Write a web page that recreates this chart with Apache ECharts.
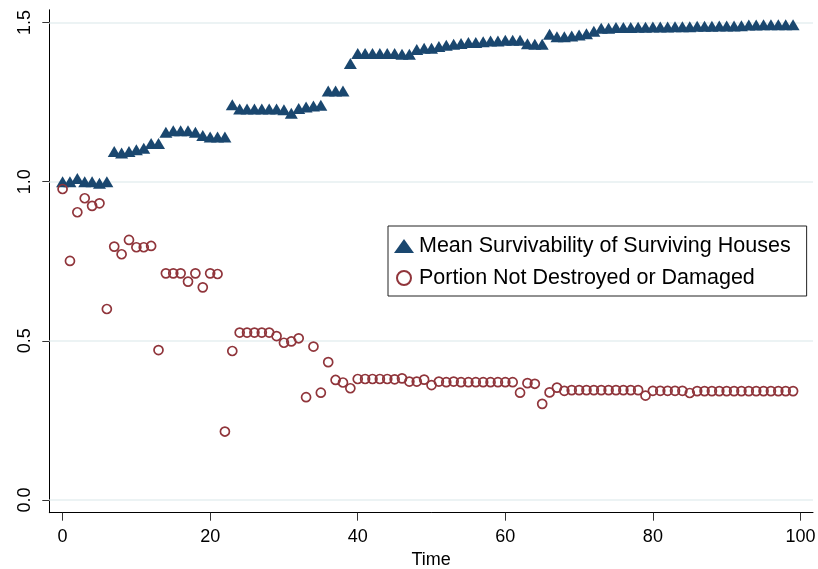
<!DOCTYPE html>
<html>
<head>
<meta charset="utf-8">
<script src="https://cdn.jsdelivr.net/npm/echarts@6/dist/echarts.min.js"></script>
<style>html,body{margin:0;padding:0;background:#fff}#c{width:818px;height:569px}</style>
</head>
<body>
<div id="c"></div>
<script>
// Time steps 0..99
const timeSteps = [];
for (let t = 0; t < 100; t++) timeSteps.push(t);

const meanSurvivability = [
  1.000, 1.000, 1.010, 1.000, 1.000, 0.995, 1.000, 1.095, 1.090, 1.095,
  1.100, 1.105, 1.120, 1.120, 1.155, 1.160, 1.160, 1.160, 1.155, 1.145,
  1.140, 1.140, 1.140, 1.242, 1.228, 1.228, 1.228, 1.228, 1.228, 1.228,
  1.226, 1.215, 1.230, 1.235, 1.238, 1.240, 1.285, 1.285, 1.285, 1.371,
  1.403, 1.403, 1.403, 1.403, 1.403, 1.403, 1.400, 1.400, 1.415, 1.419,
  1.419, 1.425, 1.429, 1.432, 1.434, 1.437, 1.437, 1.440, 1.442, 1.442,
  1.444, 1.444, 1.444, 1.433, 1.432, 1.432, 1.463, 1.455, 1.455, 1.458,
  1.461, 1.465, 1.473, 1.482, 1.482, 1.484, 1.484, 1.484, 1.485, 1.485,
  1.486, 1.486, 1.486, 1.487, 1.487, 1.487, 1.488, 1.488, 1.488, 1.489,
  1.489, 1.489, 1.490, 1.492, 1.492, 1.493, 1.493, 1.493, 1.493, 1.493
];

const portionNotDamaged = [
  0.977, 0.751, 0.904, 0.948, 0.924, 0.932, 0.600, 0.796, 0.772, 0.817,
  0.794, 0.794, 0.798, 0.471, 0.712, 0.712, 0.712, 0.686, 0.712, 0.668,
  0.712, 0.710, 0.215, 0.468, 0.526, 0.526, 0.526, 0.526, 0.526, 0.515,
  0.494, 0.498, 0.508, 0.323, 0.482, 0.337, 0.433, 0.377, 0.369, 0.351,
  0.380, 0.380, 0.380, 0.380, 0.380, 0.379, 0.382, 0.372, 0.372, 0.378,
  0.361, 0.372, 0.370, 0.372, 0.370, 0.370, 0.370, 0.370, 0.370, 0.370,
  0.370, 0.370, 0.337, 0.367, 0.365, 0.302, 0.338, 0.353, 0.343, 0.345,
  0.345, 0.345, 0.345, 0.345, 0.345, 0.345, 0.345, 0.345, 0.345, 0.328,
  0.343, 0.343, 0.343, 0.343, 0.343, 0.336, 0.342, 0.342, 0.342, 0.342,
  0.342, 0.342, 0.342, 0.342, 0.342, 0.342, 0.342, 0.342, 0.342, 0.342
];

const xTicks = [0, 20, 40, 60, 80, 100];
const yTicks = [0, 0.5, 1.0, 1.5];
const seriesNames = ['Mean Survivability of Surviving Houses', 'Portion Not Destroyed or Damaged'];
const xTitle = 'Time';

const FONT = 'Liberation Sans, Arial, sans-serif';
const chart = echarts.init(document.getElementById('c'), null, {renderer: 'canvas'});

chart.setOption({
  animation: false,
  backgroundColor: '#ffffff',
  grid: {left: 49.3, right: 5, top: 9.8, bottom: 56.3, outerBoundsMode: 'none', containLabel: false},
  legend: {
    data: seriesNames,
    orient: 'vertical',
    left: 388, top: 226,
    padding: [9, 16, 7, 6],
    itemGap: 10,
    itemWidth: 20, itemHeight: 14,
    backgroundColor: '#ffffff',
    borderColor: '#222',
    borderWidth: 1,
    borderRadius: 0,
    zlevel: 2,
    textStyle: {fontFamily: FONT, fontSize: 21.5, lineHeight: 22, color: '#000'}
  },
  xAxis: {
    type: 'value',
    min: -1.8, max: 101.7,
    name: xTitle,
    nameLocation: 'middle',
    nameGap: 36,
    nameTextStyle: {fontFamily: FONT, fontSize: 18, color: '#000'},
    axisLine: {show: true, onZero: false, lineStyle: {color: '#000', width: 1}},
    axisTick: {show: true, length: 8, customValues: xTicks, lineStyle: {color: '#333'}},
    axisLabel: {customValues: xTicks, margin: 15, fontFamily: FONT, fontSize: 18, color: '#000'},
    splitLine: {show: false}
  },
  yAxis: {
    type: 'value',
    min: -0.04, max: 1.54,
    axisLine: {show: true, onZero: false, lineStyle: {color: '#000', width: 1}},
    axisTick: {show: true, length: 7, customValues: yTicks, lineStyle: {color: '#333'}},
    axisLabel: {customValues: yTicks, rotate: 90, margin: 15, fontFamily: FONT, fontSize: 18, color: '#000',
      formatter: v => v.toFixed(1)},
    splitLine: {show: false}
  },
  series: [
    {
      name: 'grid',
      type: 'line',
      data: [],
      z: 0,
      silent: true,
      markLine: {
        silent: true,
        symbol: 'none',
        label: {show: false},
        lineStyle: {color: '#e6eff1', type: 'solid', width: 1.5},
        data: yTicks.map(v => ({yAxis: v}))
      }
    },
    {
      name: seriesNames[0],
      type: 'scatter',
      zlevel: 1,
      z: 2,
      symbol: 'triangle',
      symbolSize: [13, 11],
      itemStyle: {color: '#1a476f', opacity: 1},
      data: timeSteps.map((t, i) => [t, meanSurvivability[i]])
    },
    {
      name: seriesNames[1],
      type: 'scatter',
      zlevel: 1,
      z: 3,
      symbol: 'circle',
      symbolSize: 9,
      itemStyle: {color: 'rgba(255,255,255,0)', borderColor: '#90353b', borderWidth: 1.7, opacity: 1},
      data: timeSteps.map((t, i) => [t, portionNotDamaged[i]])
    }
  ]
});
</script>
</body>
</html>
